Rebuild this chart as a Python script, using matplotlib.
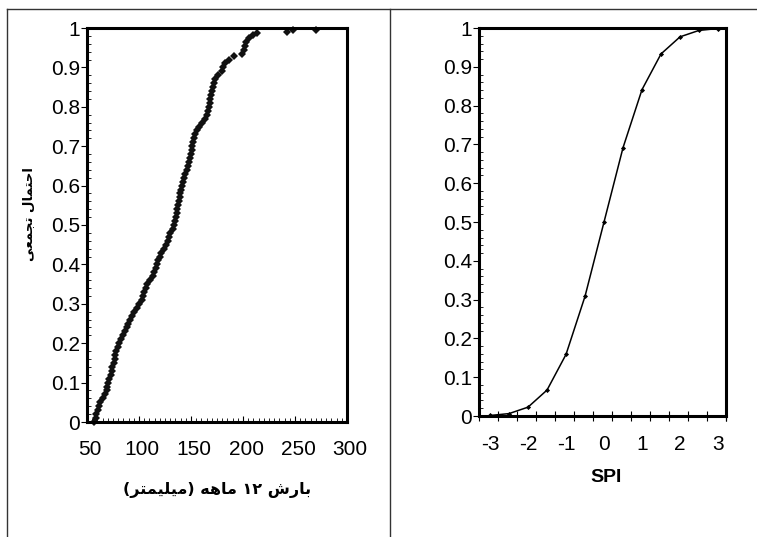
import numpy as np
import matplotlib
matplotlib.use("Agg")
import matplotlib.pyplot as plt
from matplotlib.lines import Line2D
from matplotlib.ticker import MultipleLocator, FixedLocator, FuncFormatter
from matplotlib.transforms import ScaledTranslation

plt.rcParams["axes.unicode_minus"] = False

# ---------------- data ----------------
# left panel: empirical cumulative probability of 12-month rainfall (mm)
rain_mm = [57.2, 58.2, 59.1, 60.3, 61.4, 62.3, 65.3, 67.4, 68.8, 69.6,
           70.4, 71.5, 72.6, 73.6, 74.3, 75.5, 76.6, 77.4, 78.3, 79.5,
           81.0, 82.5, 84.8, 87.0, 88.0, 89.4, 90.9, 93.6, 95.4, 97.7,
           100.2, 102.8, 103.9, 105.1, 106.4, 107.7, 110.6, 113.9, 114.8, 115.9,
           117.2, 118.5, 120.0, 121.5, 123.8, 126.0, 127.8, 129.0, 130.2, 133.1,
           133.8, 134.4, 135.2, 136.3, 136.9, 137.5, 138.3, 139.2, 139.9, 140.6,
           141.3, 142.2, 143.5, 144.7, 145.9, 146.9, 147.9, 148.9, 149.8, 150.7,
           151.3, 151.9, 152.7, 154.1, 155.4, 157.7, 161.0, 163.8, 165.4, 166.4,
           167.0, 167.8, 168.5, 169.5, 170.5, 171.3, 172.3, 173.4, 175.8, 179.7,
           180.6, 182.5, 186.7, 191.5,
           199.0, 200.5, 201.8, 203.0, 205.8, 209.5, 213.0,
           242.6, 248.4, 269.9]
cum_prob = [0.00, 0.01, 0.02, 0.03, 0.04, 0.05, 0.06, 0.07, 0.08, 0.09,
            0.10, 0.11, 0.12, 0.13, 0.14, 0.15, 0.16, 0.17, 0.18, 0.19,
            0.20, 0.21, 0.22, 0.23, 0.24, 0.25, 0.26, 0.27, 0.28, 0.29,
            0.30, 0.31, 0.32, 0.33, 0.34, 0.35, 0.36, 0.37, 0.38, 0.39,
            0.40, 0.41, 0.42, 0.43, 0.44, 0.45, 0.46, 0.47, 0.48, 0.49,
            0.50, 0.51, 0.52, 0.53, 0.54, 0.55, 0.56, 0.57, 0.58, 0.59,
            0.60, 0.61, 0.62, 0.63, 0.64, 0.65, 0.66, 0.67, 0.68, 0.69,
            0.70, 0.71, 0.72, 0.73, 0.74, 0.75, 0.76, 0.77, 0.78, 0.79,
            0.80, 0.81, 0.82, 0.83, 0.84, 0.85, 0.86, 0.87, 0.88, 0.89,
            0.90, 0.91, 0.92, 0.93,
            0.935, 0.945, 0.955, 0.965, 0.975, 0.983, 0.988,
            0.991, 0.994, 0.994]

# right panel: SPI vs cumulative probability
spi = [-3.0, -2.5, -2.0, -1.5, -1.0, -0.5, 0.0, 0.5, 1.0, 1.5, 2.0, 2.5, 3.0]
spi_prob = [0.0013, 0.0062, 0.0228, 0.0668, 0.1587, 0.3085, 0.5,
            0.6915, 0.8413, 0.9332, 0.9772, 0.9938, 0.9987]

left_xticks = [50, 100, 150, 200, 250, 300]
right_xticks = [-3, -2, -1, 0, 1, 2, 3]
yticks = [0, 0.1, 0.2, 0.3, 0.4, 0.5, 0.6, 0.7, 0.8, 0.9, 1.0]

# Persian labels (presentation forms, visual order)
ylabel_fa = "\uFBFD\uFECC\uFEE4\uFEA0\uFE97 \uFEDD\uFE8E\uFEE4\uFE98\uFEA3\uFE8D"   # احتمال تجمعی
xlabel_fa = ("(\uFEAE\uFE98\uFEE4\uFEF4\uFEE0\uFEF4\uFEE3) "
             "\uFEEA\uFEEB\uFE8E\uFEE3 \u06F1\u06F2 \uFEB5\uFEAD\uFE8E\uFE91")  # بارش ۱۲ ماهه (میلیمتر)
xlabel_right = "SPI"

# ---------------- figure ----------------
W, H = 757, 537
fig = plt.figure(figsize=(W / 100, H / 100), dpi=100)
fig.patch.set_facecolor("white")

num_font = ["Liberation Sans", "DejaVu Sans"]
fa_font = ["DejaVu Sans"]
TS = 15

def fmt(v, pos):
    return "%g" % v

def style_axes(ax):
    for sp in ax.spines.values():
        sp.set_linewidth(2.2)
        sp.set_color("black")
    ax.set_ylim(0, 1)
    ax.yaxis.set_major_locator(FixedLocator(yticks))
    ax.yaxis.set_major_formatter(FuncFormatter(fmt))
    ax.yaxis.set_minor_locator(MultipleLocator(0.02))
    ax.tick_params(axis="y", which="major", direction="out", length=4,
                   width=0.8, pad=2, labelsize=TS)
    ax.tick_params(axis="y", which="minor", direction="in", length=3, width=0.6)

# left axes
axL = fig.add_axes([87 / W, 1 - 422 / H, 260 / W, 394 / H])
style_axes(axL)
axL.set_xlim(50, 300)
axL.xaxis.set_major_locator(FixedLocator(left_xticks))
axL.xaxis.set_minor_locator(MultipleLocator(5))
axL.tick_params(axis="x", which="major", direction="in", length=4, width=0.8,
                pad=13, labelsize=TS)
axL.tick_params(axis="x", which="minor", direction="in", length=3, width=0.6)
axL.plot(rain_mm, cum_prob, linestyle="none", marker="D", markersize=3.6,
         color="#111111", markeredgewidth=0, clip_on=False)
off = ScaledTranslation(3 / 100, 0, fig.dpi_scale_trans)
for lab in axL.get_xticklabels():
    lab.set_family(num_font)
    lab.set_transform(lab.get_transform() + off)
for lab in axL.get_yticklabels():
    lab.set_family(num_font)
axL.yaxis.set_tick_params(pad=1)

# right axes
axR = fig.add_axes([479 / W, 1 - 416 / H, 247 / W, 388 / H])
style_axes(axR)
axR.set_xlim(-3.29, 3.21)
axR.xaxis.set_major_locator(FixedLocator(right_xticks))
axR.xaxis.set_minor_locator(FixedLocator(list(np.arange(-3.29, 3.22, 0.5)) + [3.21]))
axR.tick_params(axis="x", which="major", length=0, pad=14, labelsize=TS)
axR.tick_params(axis="x", which="minor", direction="inout", length=7, width=0.8)
axR.plot(spi, spi_prob, color="black", linewidth=1.1, marker="D",
         markersize=2.6, markeredgewidth=0, clip_on=False)
for lab in axR.get_xticklabels() + axR.get_yticklabels():
    lab.set_family(num_font)
axR.yaxis.set_tick_params(pad=1)

# labels
fig.text(217 / W, 1 - 490 / H, xlabel_fa, family=fa_font, fontweight="bold",
         fontsize=11.5, ha="center", va="center")
fig.text(29 / W, 1 - 214 / H, ylabel_fa, family=fa_font, fontweight="bold",
         fontsize=9.5, ha="center", va="center", rotation=90)
fig.text(606 / W, 1 - 478 / H, xlabel_right, family=num_font, fontweight="bold",
         fontsize=14, ha="center", va="center")

# table borders
lc = "#333333"
fig.add_artist(Line2D([7 / W, 1.0], [1 - 9 / H, 1 - 9 / H], color=lc, linewidth=1.0,
                      transform=fig.transFigure))
fig.add_artist(Line2D([7 / W, 7 / W], [0, 1 - 9 / H], color=lc, linewidth=1.0,
                      transform=fig.transFigure))
fig.add_artist(Line2D([390 / W, 390 / W], [0, 1 - 9 / H], color=lc, linewidth=1.0,
                      transform=fig.transFigure))

fig.savefig("out.png", dpi=100, facecolor="white")
